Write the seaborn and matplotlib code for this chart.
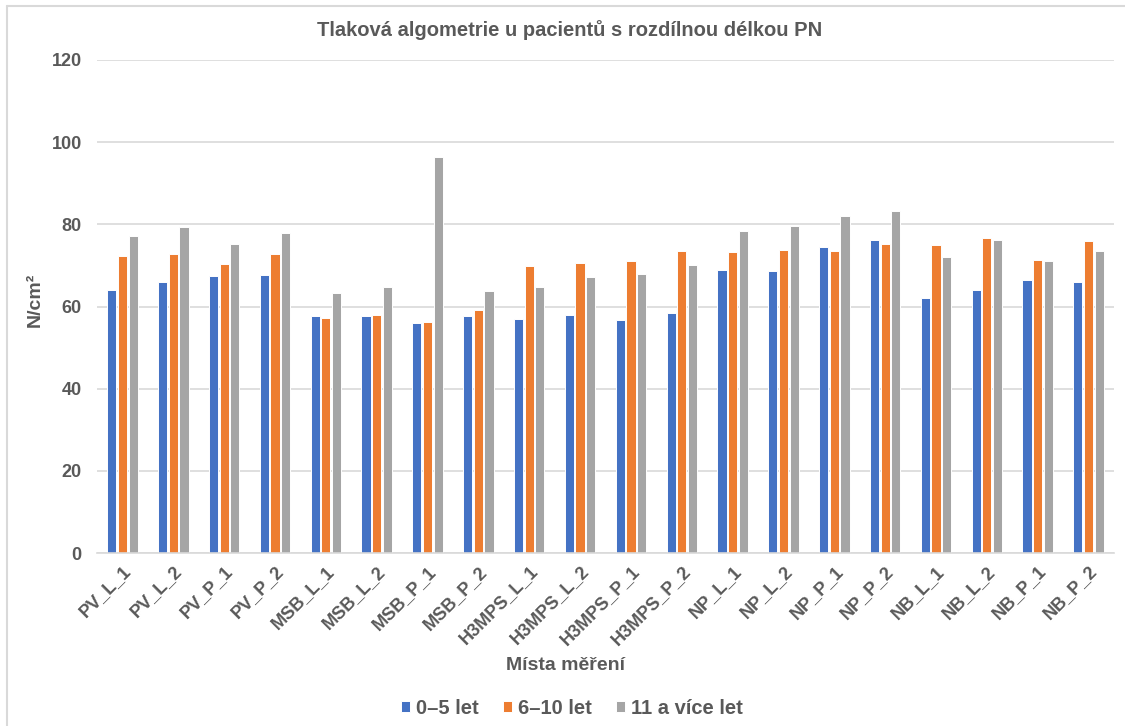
import matplotlib
matplotlib.use("Agg")
import matplotlib.pyplot as plt
from matplotlib.lines import Line2D
import pandas as pd
import seaborn as sns

sites = ["PV_L_1", "PV_L_2", "PV_P_1", "PV_P_2",
         "MSB_L_1", "MSB_L_2", "MSB_P_1", "MSB_P_2",
         "H3MPS_L_1", "H3MPS_L_2", "H3MPS_P_1", "H3MPS_P_2",
         "NP_L_1", "NP_L_2", "NP_P_1", "NP_P_2",
         "NB_L_1", "NB_L_2", "NB_P_1", "NB_P_2"]

groups = ["0–5 let", "6–10 let", "11 a více let"]

vals_0_5 = [64.1, 66.0, 67.4, 67.6,
            57.7, 57.7, 55.9, 57.7,
            56.9, 57.9, 56.8, 58.4,
            68.8, 68.6, 74.5, 76.3,
            62.0, 64.0, 66.4, 66.0]
vals_6_10 = [72.3, 72.7, 70.3, 72.7,
             57.2, 58.0, 56.2, 59.1,
             69.9, 70.7, 71.1, 73.5,
             73.3, 73.8, 73.4, 75.1,
             75.0, 76.7, 71.3, 76.0]
vals_11 = [77.2, 79.3, 75.2, 77.9,
           63.2, 64.7, 96.3, 63.8,
           64.7, 67.3, 68.0, 70.2,
           78.4, 79.7, 82.0, 83.3,
           72.1, 76.2, 71.1, 73.5]

y_ticks = [0, 20, 40, 60, 80, 100, 120]

colors = ["#4472C4", "#ED7D31", "#A5A5A5"]
text_color = "#595959"
grid_color = "#D9D9D9"

df = pd.concat([
    pd.DataFrame({"site": sites, "value": v, "group": g})
    for v, g in zip([vals_0_5, vals_6_10, vals_11], groups)
], ignore_index=True)

sns.set_style("white")
plt.rcParams["font.family"] = ["Liberation Sans", "DejaVu Sans"]

fig = plt.figure(figsize=(11.25, 7.26), dpi=100)
ax = fig.add_axes([97 / 1125, 1 - 553 / 726, (1114 - 97) / 1125, (553 - 60) / 726])

sns.barplot(data=df, x="site", y="value", hue="group", order=sites,
            hue_order=groups, palette=colors, saturation=1, width=0.63, gap=0.14,
            edgecolor="white", linewidth=0.7, ax=ax)

ax.set_xlim(-0.5, len(sites) - 0.5)
ax.set_ylim(0, 120)
ax.set_yticks(y_ticks)
ax.yaxis.grid(True, color=grid_color, linewidth=1.2)
ax.set_axisbelow(True)
for side in ["top", "right", "left"]:
    ax.spines[side].set_visible(False)
ax.spines["bottom"].set_color(grid_color)
ax.spines["bottom"].set_linewidth(1.2)
ax.tick_params(axis="both", length=0, colors=text_color, labelsize=13)
ax.tick_params(axis="y", pad=11)
plt.setp(ax.get_yticklabels(), fontweight="bold")
plt.setp(ax.get_xticklabels(), rotation=45, ha="right",
         rotation_mode="anchor", fontweight="bold")
ax.tick_params(axis="x", pad=7)

ax.set_xlabel("")
ax.set_ylabel("")
fig.text(35 / 1125, 1 - 300 / 726, "N/cm²", rotation=90, ha="center", va="center",
         fontsize=14, fontweight="bold", color=text_color)
fig.text(565 / 1125, 1 - 665 / 726, "Místa měření", ha="center", va="center",
         fontsize=14, fontweight="bold", color=text_color)
fig.text(570 / 1125, 1 - 30 / 726, "Tlaková algometrie u pacientů s rozdílnou délkou PN",
         ha="center", va="center", fontsize=14.5, fontweight="bold", color=text_color)

handles, labels = ax.get_legend_handles_labels()
ax.get_legend().remove()
leg = fig.legend(handles, labels, loc="center", ncol=3, frameon=False,
                 bbox_to_anchor=(572 / 1125, 1 - 708 / 726),
                 handlelength=0.45, handleheight=0.45, handletextpad=0.3,
                 columnspacing=1.2, prop={"size": 14.5, "weight": "bold"})
for t in leg.get_texts():
    t.set_color(text_color)

# thin frame lines along the top and left edges of the chart area
fig.add_artist(Line2D([7 / 1125, 7 / 1125], [0, 1 - 6 / 726], color="#D9D9D9", linewidth=1.5))
fig.add_artist(Line2D([7 / 1125, 1], [1 - 6 / 726, 1 - 6 / 726], color="#D9D9D9", linewidth=1.5))

fig.savefig("out.png", dpi=100)
